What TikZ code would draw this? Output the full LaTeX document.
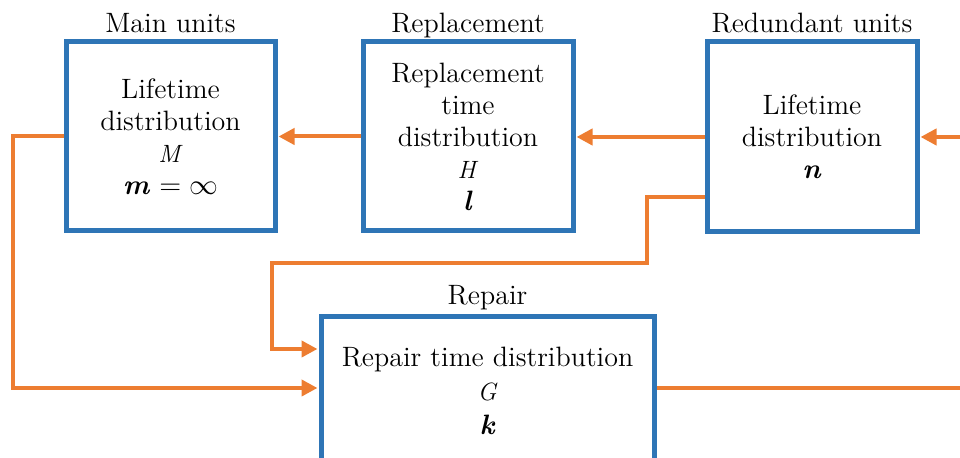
\documentclass[tikz,border=0pt]{standalone}
\usetikzlibrary{arrows.meta}

\definecolor{boxblue}{HTML}{2E75B6}
\definecolor{linkorange}{HTML}{ED7D31}

% bold italic symbol used for the counts
\newcommand{\cnt}[1]{\textbf{\textit{#1}}}
% italic distribution symbol, set a little smaller
\newcommand{\dist}[1]{{\fontsize{12.5}{16}\selectfont\textit{#1}}}

\begin{document}
\begin{tikzpicture}[x=0.5pt,y=-0.5pt,
  unitbox/.style={draw=boxblue, line width=2.5pt, fill=white, align=center,
    inner sep=0pt, font=\fontsize{14}{16}\selectfont},
  boxtext/.style={align=center, inner sep=0pt, font=\fontsize{14}{17}\selectfont},
  caption/.style={anchor=base, inner sep=0pt, font=\fontsize{14}{16}\selectfont},
  link/.style={draw=linkorange, line width=2pt},
  flow/.style={link, -{Triangle[length=8pt,width=8pt]}, shorten >=0.5pt},
]
\useasboundingbox (0,0) rectangle (960,458);

% blocks
\node[unitbox, minimum width=104.5pt, minimum height=94.5pt] (main) at (170.5,136.5)
  {Lifetime\\distribution\\\dist{M}\\\cnt{m} $=\infty$};
\node[unitbox, minimum width=105pt, minimum height=94.5pt] (repl) at (468,136.5)
  {Replacement\\time\\distribution\\\dist{H}\\\cnt{l}};
\node[unitbox, minimum width=105pt, minimum height=95pt] (redu) at (812,137)
  {Lifetime\\distribution\\\cnt{n}};
\node[unitbox, minimum width=166.5pt, minimum height=72pt] (repair) at (487.5,389) {};
\node[boxtext] (repairtxt) at (487.5,391)
  {Repair time distribution\\\dist{G}\\\cnt{k}};

% captions
\node[caption] (mainlab) at (170.5,33) {Main units};
\node[caption] (repllab) at (468,33) {Replacement};
\node[caption] (redulab) at (812,33) {Redundant units};
\node[caption] (repairlab) at (487.5,305) {Repair};

% free ends at the right margin
\coordinate (outR) at (961,388);
\coordinate (inR) at (961,137);

% connectors
\draw[flow] (redu.west) -- (redu.west -| repl.east);
\draw[flow] (repl.west) -- (repl.west -| main.east);
\draw[flow] (inR) -- (redu.east);
\draw[flow] (main.west) -- (13,136.5) -- (13,388) -- (repair.west |- 0,388);
\draw[flow] (redu.west |- 0,197) -- (647,197) -- (647,263) -- (272,263)
  -- (272,349) -- (repair.west |- 0,349);
\draw[link] (repair.east |- 0,388) -- (outR);
\end{tikzpicture}
\end{document}
